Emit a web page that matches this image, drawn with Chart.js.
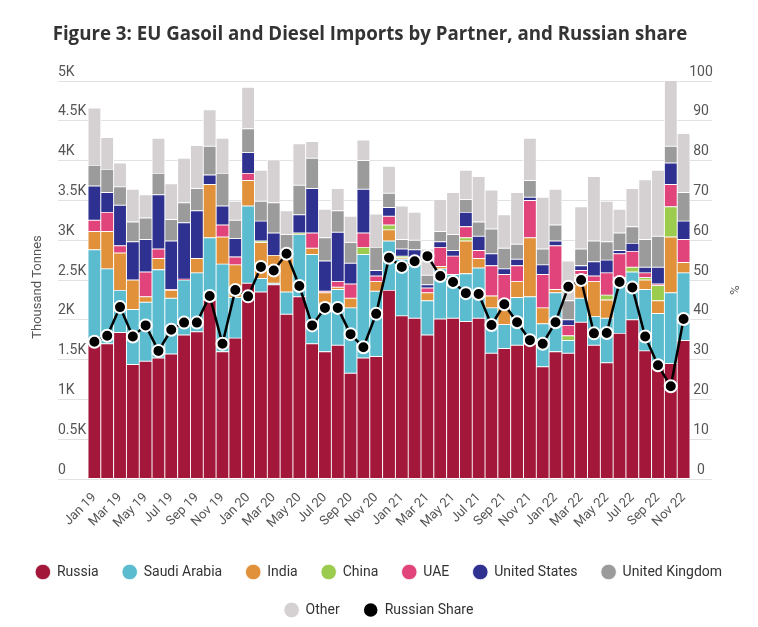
<!DOCTYPE html>
<html>
<head>
<meta charset="utf-8">
<script src="https://cdn.jsdelivr.net/npm/chart.js@4.4.0/dist/chart.umd.min.js"></script>
<style>
  html, body { margin: 0; padding: 0; background: #fff; }
  #wrap { width: 758px; height: 627px; position: relative; }
</style>
</head>
<body>
<div id="wrap"><canvas id="chart"></canvas></div>
<script>
// ---- data (thousand tonnes) ----
const months = [
  "Jan 19","Feb 19","Mar 19","Apr 19","May 19","Jun 19","Jul 19","Aug 19","Sep 19","Oct 19","Nov 19","Dec 19",
  "Jan 20","Feb 20","Mar 20","Apr 20","May 20","Jun 20","Jul 20","Aug 20","Sep 20","Oct 20","Nov 20","Dec 20",
  "Jan 21","Feb 21","Mar 21","Apr 21","May 21","Jun 21","Jul 21","Aug 21","Sep 21","Oct 21","Nov 21","Dec 21",
  "Jan 22","Feb 22","Mar 22","Apr 22","May 22","Jun 22","Jul 22","Aug 22","Sep 22","Oct 22","Nov 22"
];
const russia = [1.75,1.70,1.84,1.44,1.48,1.52,1.57,1.81,1.85,2.25,1.60,1.77,2.46,2.35,2.44,2.07,2.29,1.70,1.60,1.68,1.33,1.52,1.54,2.37,
  2.05,2.02,1.81,2.01,2.02,1.98,2.02,1.58,1.64,1.68,1.70,1.41,1.60,1.58,1.97,1.68,1.46,1.83,2.00,1.61,1.44,1.45,1.74];
const saudi = [1.13,0.94,0.53,0.69,0.74,1.11,0.70,0.69,0.74,0.78,1.10,0.51,0.97,0.17,0.02,0.28,0.78,1.12,0.61,0.70,0.82,1.30,0.82,0.62,
  0.71,0.74,0.43,0.63,0.55,0.60,0.63,0.57,0.30,0.60,0.59,0.54,0.74,0.16,0.30,0.36,0.56,0.70,0.60,0.77,0.64,0.89,0.85];
const india = [0.23,0.47,0.47,0.37,0.07,0.14,0.10,0,0.18,0.67,0.34,0.41,0.32,0.45,0.35,0.47,0.01,0.08,0.13,0.03,0.12,0,0.12,0.14,
  0.02,0,0.10,0.03,0,0.41,0.12,0.15,0.22,0.20,0.74,0.20,0.04,0,0.30,0.44,0.23,0,0,0.12,0.16,0.70,0.13];
const china = [0,0,0,0,0,0,0,0,0,0,0,0,0,0.02,0,0,0.01,0,0,0,0,0.09,0,0.06,
  0.02,0,0,0,0,0.04,0,0,0.02,0,0,0,0,0.06,0,0,0.06,0,0.06,0.03,0.19,0.38,0];
const uae = [0.14,0.24,0.09,0,0.31,0.12,0.01,0.01,0,0,0.15,0.10,0.09,0,0,0,0,0.19,0.02,0.07,0.18,0.18,0.07,0.11,
  0,0.02,0.06,0.24,0.23,0.14,0.10,0.38,0.39,0.20,0.47,0.42,0.55,0.13,0.05,0.07,0.28,0.30,0.20,0.06,0.02,0.28,0.29];
const usa = [0.43,0.25,0.51,0.48,0.41,0.68,0.61,0.71,0.60,0.12,0.24,0.23,0.26,0.25,0.28,0.03,0.23,0.56,0.38,0.62,0.26,0.55,0.07,0.11,
  0.09,0.10,0.04,0.07,0.07,0.18,0.18,0.15,0.07,0.08,0.04,0.12,0.06,0.07,0.06,0.18,0.16,0.04,0.10,0.07,0.21,0.27,0.23];
const uk = [0.26,0.29,0.23,0.25,0.27,0.27,0.27,0.25,0.28,0.36,0.41,0.23,0.30,0.25,0.38,0.22,0.37,0.38,0.29,0.27,0.26,0.36,0.29,0.18,
  0.12,0.12,0.12,0.13,0.20,0.16,0.18,0.31,0.26,0.19,0.21,0.20,0.20,0.24,0.21,0.26,0.23,0.22,0.21,0.35,0.39,0.21,0.36];
const other = [0.72,0.40,0.30,0.41,0.29,0.44,0.45,0.56,0.54,0.46,0.44,0.24,0.52,0.39,0.54,0.30,0.52,0.21,0.36,0.28,0.33,0.26,0.42,0.34,
  0.42,0.35,0.33,0.40,0.53,0.37,0.57,0.49,0.42,0.65,0.53,0.65,0.45,0.50,0.53,0.81,0.51,0.30,0.48,0.75,0.83,0.83,0.74];
// Russian share, %
const share = [34.5,36,43.2,35.8,38.6,32.2,37.5,39.3,39.3,46,34,47.5,45.9,53.3,52.4,56.6,48.5,38.6,43,43,36.4,33.1,41.5,55.6,
  53.3,54.7,56,51,49.5,46.7,46.5,38.7,43.9,39.4,34.9,34,39.4,48.3,50,36.6,36.7,49.5,48.1,35.8,28.6,23.3,40.2];

const FONT = "Roboto, 'Open Sans', sans-serif";
const GREY = "#555";
const TITLE = "Figure 3: EU Gasoil and Diesel Imports by Partner, and Russian share";

function bar(label, data, color) {
  return {
    type: "bar", label, data, backgroundColor: color,
    borderColor: "#fff", borderWidth: 0.8, borderSkipped: false,
    yAxisID: "y", order: 1
  };
}

// title, axis tick labels (they sit just above the grid lines) and axis titles
const axisText = {
  id: "axisText",
  afterDraw(chart) {
    const { ctx, chartArea, scales } = chart;
    ctx.save();
    ctx.fillStyle = "#333";
    ctx.font = "bold 18.7px 'Open Sans', sans-serif";
    ctx.textAlign = "center";
    ctx.textBaseline = "middle";
    ctx.fillText(TITLE, 370, 35);

    ctx.fillStyle = GREY;
    ctx.font = "14px " + FONT;
    ctx.textBaseline = "bottom";
    ctx.textAlign = "left";
    scales.y.ticks.forEach((t) => {
      const y = scales.y.getPixelForValue(t.value);
      ctx.fillText(t.value === 0 ? "0" : t.value + "K", 58, y - 2);
    });
    ctx.textAlign = "center";
    scales.y1.ticks.forEach((t) => {
      const y = scales.y1.getPixelForValue(t.value);
      ctx.fillText(String(t.value), 701, y - 2);
    });
    const midY = (chartArea.top + chartArea.bottom) / 2;
    ctx.font = "13px " + FONT;
    ctx.textBaseline = "middle";
    ctx.translate(38, midY + 7);
    ctx.rotate(-Math.PI / 2);
    ctx.fillText("Thousand Tonnes", 0, 0);
    ctx.restore();
    ctx.save();
    ctx.fillStyle = GREY;
    ctx.font = "13px " + FONT;
    ctx.textAlign = "center";
    ctx.textBaseline = "middle";
    ctx.translate(733, midY + 10);
    ctx.rotate(Math.PI / 2);
    ctx.fillText("%", 0, 0);
    ctx.restore();
  }
};

const ctx = document.getElementById("chart").getContext("2d");
new Chart(ctx, {
  data: {
    labels: months,
    datasets: [
      bar("Russia", russia, "#a3173a"),
      bar("Saudi Arabia", saudi, "#5bbcd0"),
      bar("India", india, "#e0913a"),
      bar("China", china, "#9ccc4e"),
      bar("UAE", uae, "#e0447a"),
      bar("United States", usa, "#2e3190"),
      bar("United Kingdom", uk, "#9b9b9b"),
      bar("Other", other, "#d5d1d2"),
      {
        type: "line", label: "Russian Share", data: share, yAxisID: "y1", order: 0,
        borderColor: "#000", borderWidth: 2.5, backgroundColor: "#000",
        pointRadius: 6, pointBackgroundColor: "#000", pointBorderColor: "#fff",
        pointBorderWidth: 2, tension: 0
      }
    ]
  },
  options: {
    responsive: true,
    maintainAspectRatio: false,
    animation: false,
    layout: { padding: { left: 0, right: 0, top: 81, bottom: 0 } },
    datasets: { bar: { barPercentage: 1, categoryPercentage: 1 } },
    plugins: {
      title: { display: false },
      legend: {
        position: "bottom",
        labels: {
          usePointStyle: true, pointStyle: "circle", boxHeight: 11,
          padding: 24, color: "#333",
          font: { family: FONT, size: 14 },
          sort: (a, b) => a.datasetIndex - b.datasetIndex
        }
      },
      tooltip: { enabled: false }
    },
    scales: {
      x: {
        stacked: true,
        grid: { display: false },
        border: { display: false },
        ticks: {
          autoSkip: false, maxRotation: 45, minRotation: 45,
          color: GREY, font: { family: FONT, size: 13 },
          callback: (v, i) => (i % 2 === 0 ? months[i] : "")
        },
        afterFit: (s) => { s.height += 7; }
      },
      y: {
        stacked: true, position: "left", min: 0, max: 5,
        ticks: { stepSize: 0.5, display: false },
        grid: { color: "#e2e2e2", tickLength: 30, tickColor: "#e2e2e2" },
        border: { display: false },
        afterFit: (s) => { s.width = 88; }
      },
      y1: {
        position: "right", min: 0, max: 100,
        ticks: { stepSize: 10, display: false },
        grid: { drawOnChartArea: false, tickLength: 22, tickColor: "#e2e2e2", color: "#e2e2e2" },
        border: { display: false },
        afterFit: (s) => { s.width = 68; }
      }
    }
  },
  plugins: [axisText]
});
</script>
</body>
</html>
